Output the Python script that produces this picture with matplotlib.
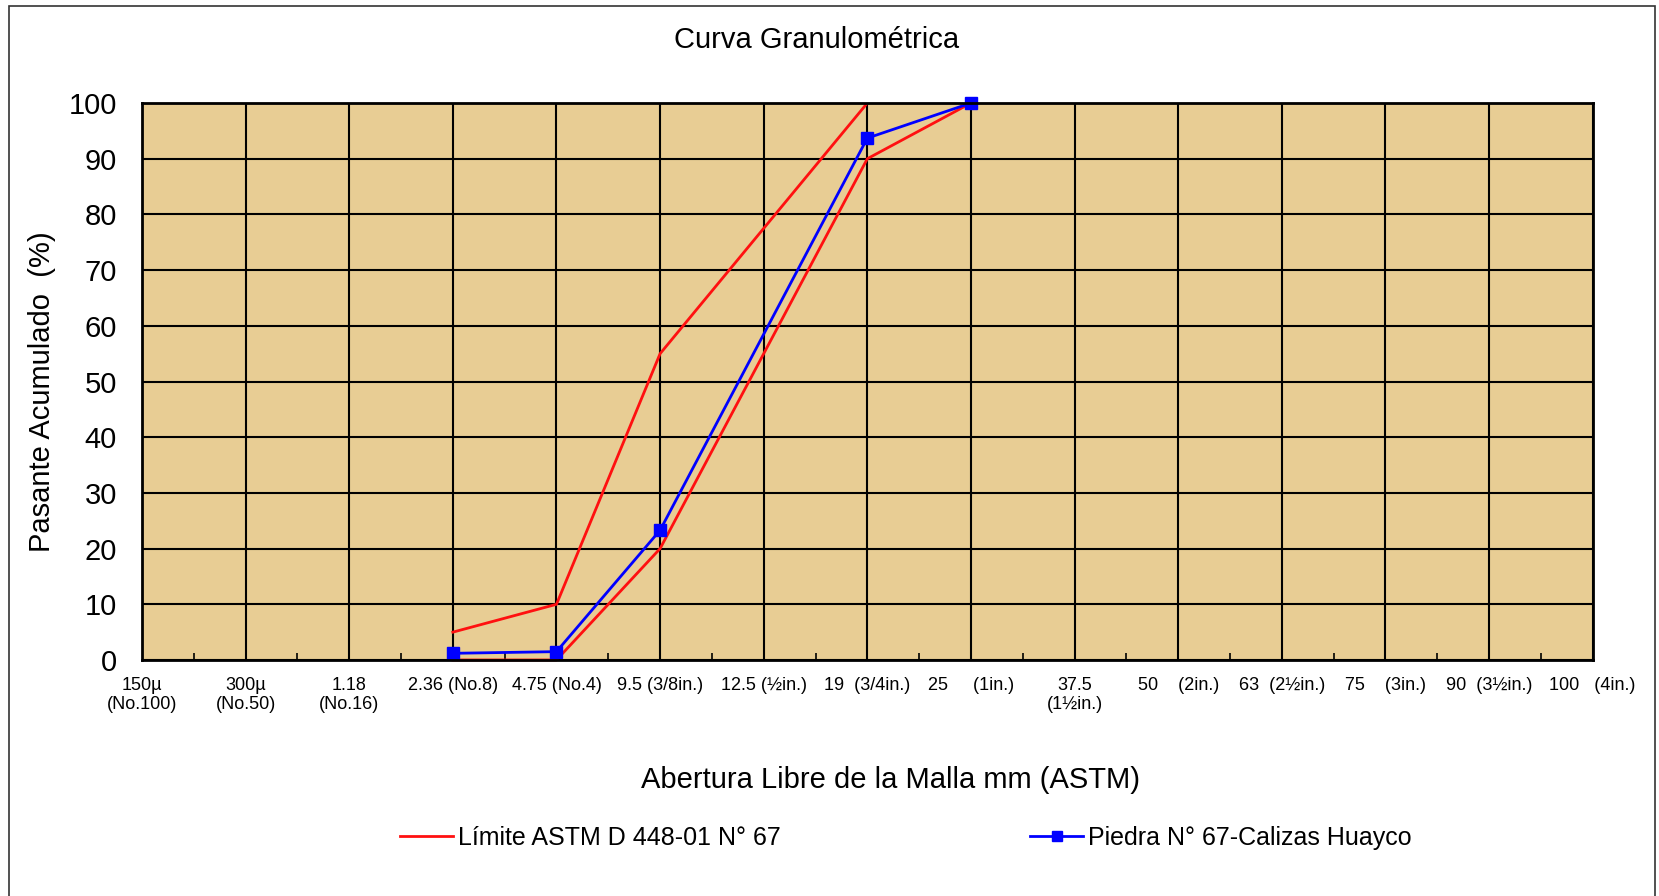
import numpy as np
import matplotlib.pyplot as plt
from matplotlib.patches import Rectangle

plt.rcParams['font.family'] = ['Liberation Sans', 'DejaVu Sans']

# Tamices (eje de categorias)
tamices = ['150µ\n(No.100)', '300µ\n(No.50)', '1.18\n(No.16)', '2.36 (No.8)',
           '4.75 (No.4)', '9.5 (3/8in.)', '12.5 (½in.)', '19  (3/4in.)',
           '25     (1in.)', '37.5\n(1½in.)', '50    (2in.)', '63  (2½in.)',
           '75    (3in.)', '90  (3½in.)', '100   (4in.)']

# Limites ASTM D 448 N° 67
pos_sup = [3, 4, 5, 7]
lim_sup = [5, 10, 55, 100]
pos_inf = [3, 4, 5, 7, 8]
lim_inf = [0, 0, 20, 90, 100]

# Muestra
pos_muestra = [3, 4, 5, 7, 8]
muestra = [1.2, 1.5, 23.3, 93.7, 100]

fig = plt.figure(figsize=(16.59, 8.96), dpi=100)
ax = fig.add_axes([0.0856, 0.2634, 0.8744, 0.6216])
ax.set_facecolor('#E8CD94')

l1, = ax.plot(pos_sup, lim_sup, color='#FF1010', lw=2, zorder=3,
              label='Límite ASTM D 448-01 N° 67')
ax.plot(pos_inf, lim_inf, color='#FF1010', lw=2, zorder=3, clip_on=False)
l2, = ax.plot(pos_muestra, muestra, color='#0000FF', lw=2, marker='s', ms=9,
              zorder=4, clip_on=False, label='Piedra N° 67-Calizas Huayco')

ax.set_xlim(0, len(tamices) - 1)
ax.set_ylim(0, 100)
ax.set_yticks(np.arange(0, 101, 10))
ax.set_xticks(np.arange(len(tamices)))
ax.set_xticklabels(tamices, fontsize=13, linespacing=1.15)
ax.set_xticks(np.arange(0, len(tamices) - 0.9, 0.5), minor=True)
ax.tick_params(axis='x', which='major', length=0, pad=12)
ax.tick_params(axis='x', which='minor', direction='in', length=5, width=1.2)
ax.tick_params(axis='y', length=0, labelsize=21, pad=18)
ax.grid(True, which='major', color='black', lw=1.5)
for s in ax.spines.values():
    s.set_linewidth(2)
    s.set_zorder(5)

fig.text(0.4925, 0.955, 'Curva Granulométrica', ha='center', va='center', fontsize=21)
fig.text(0.537, 0.129, 'Abertura Libre de la Malla mm (ASTM)', ha='center',
         va='center', fontsize=21)
fig.text(0.0255, 0.563, 'Pasante Acumulado  (%)', ha='center', va='center',
         rotation=90, fontsize=21)

fig.legend(handles=[l1, l2], loc='center', bbox_to_anchor=(0.546, 0.0647), ncol=2,
           frameon=False, fontsize=18, handlelength=2.1, handletextpad=0.2,
           columnspacing=10, markerscale=0.8)

fig.patches.append(Rectangle((9 / 1659, -0.01), 1646 / 1659, 1 - 6 / 896 + 0.01,
                             transform=fig.transFigure, fill=False,
                             edgecolor='#333333', lw=1.2))

fig.savefig('out.png', dpi=100)
